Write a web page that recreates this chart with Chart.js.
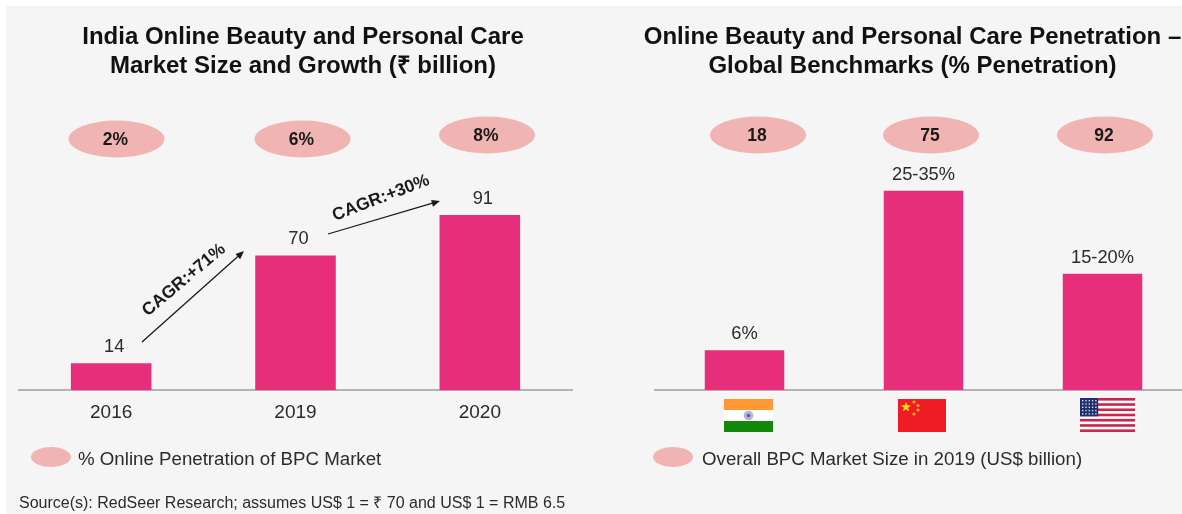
<!DOCTYPE html>
<html>
<head>
<meta charset="utf-8">
<script src="https://cdn.jsdelivr.net/npm/chart.js@4"></script>
<style>
    html, body { margin: 0; padding: 0; background: #ffffff; overflow: hidden; }
    #panel { position: absolute; left: 6px; top: 6px; width: 1176px; height: 508px; background: #f5f5f5; }
    canvas { position: absolute; top: 0; }
    #marketChart { left: 0; }
    #benchmarkChart { left: 620px; }
</style>
</head>
<body>
<div id="panel"></div>
<canvas id="marketChart" width="606" height="514"></canvas>
<canvas id="benchmarkChart" width="585" height="514"></canvas>
<script>
const marketYears = ['2016', '2019', '2020'];
const marketSize = [14, 70, 91];
const marketLabels = ['14', '70', '91'];
const onlinePenetration = ['2%', '6%', '8%'];

const countries = ['India', 'China', 'USA'];
const benchmarkPenetration = [6, 30, 17.5];
const benchmarkLabels = ['6%', '25-35%', '15-20%'];
const bpcMarketSize = ['18', '75', '92'];

const FONT = '"Liberation Sans", Arial, sans-serif';
const BAR_COLOR = '#e62e7a';
const BUBBLE_COLOR = '#f0b5b3';
const TEXT_COLOR = '#2b2b2b';

function ellipse(ctx, cx, cy, w, h) {
    ctx.fillStyle = BUBBLE_COLOR;
    ctx.beginPath();
    ctx.ellipse(cx, cy, w / 2, h / 2, 0, 0, Math.PI * 2);
    ctx.fill();
}

function text(ctx, str, x, y, font, color, align) {
    ctx.font = font;
    ctx.fillStyle = color;
    ctx.textAlign = align || 'center';
    ctx.textBaseline = 'middle';
    ctx.fillText(str, x, y);
}

function arrow(ctx, x1, y1, x2, y2) {
    const a = Math.atan2(y2 - y1, x2 - x1);
    ctx.strokeStyle = '#1a1a1a';
    ctx.fillStyle = '#1a1a1a';
    ctx.lineWidth = 1.3;
    ctx.beginPath();
    ctx.moveTo(x1, y1);
    ctx.lineTo(x2 - 6 * Math.cos(a), y2 - 6 * Math.sin(a));
    ctx.stroke();
    ctx.beginPath();
    ctx.moveTo(x2, y2);
    ctx.lineTo(x2 - 9 * Math.cos(a - 0.4), y2 - 9 * Math.sin(a - 0.4));
    ctx.lineTo(x2 - 9 * Math.cos(a + 0.4), y2 - 9 * Math.sin(a + 0.4));
    ctx.closePath();
    ctx.fill();
}

function rotatedText(ctx, str, x, y, deg) {
    ctx.save();
    ctx.translate(x, y);
    ctx.rotate(deg * Math.PI / 180);
    text(ctx, str, 0, 0, 'bold 17.5px ' + FONT, '#1a1a1a');
    ctx.restore();
}

function drawIndia(ctx, x, y, w, h) {
    ctx.fillStyle = '#ff9933';
    ctx.fillRect(x, y, w, h / 3);
    ctx.fillStyle = '#ffffff';
    ctx.fillRect(x, y + h / 3, w, h / 3);
    ctx.fillStyle = '#138808';
    ctx.fillRect(x, y + h * 2 / 3, w, h / 3);
    ctx.fillStyle = '#b4b4dc';
    ctx.beginPath();
    ctx.arc(x + w / 2, y + h / 2, 4.8, 0, Math.PI * 2);
    ctx.fill();
    ctx.fillStyle = '#5a5aa6';
    ctx.beginPath();
    ctx.arc(x + w / 2, y + h / 2, 1.8, 0, Math.PI * 2);
    ctx.fill();
}

function drawChina(ctx, x, y, w, h) {
    ctx.fillStyle = '#ee1c25';
    ctx.fillRect(x, y, w, h);
    ctx.fillStyle = '#ffdd00';
    ctx.beginPath();
    for (let i = 0; i < 10; i++) {
        const r = i % 2 ? 2.2 : 5.2;
        const a = -Math.PI / 2 + i * Math.PI / 5;
        ctx.lineTo(x + 8 + r * Math.cos(a), y + 8 + r * Math.sin(a));
    }
    ctx.closePath();
    ctx.fill();
    ctx.fillStyle = '#f6a81c';
    [[16, 3], [20, 6.5], [20, 11], [16, 15]].forEach(function(s) {
        ctx.beginPath();
        ctx.arc(x + s[0], y + s[1], 1.6, 0, Math.PI * 2);
        ctx.fill();
    });
}

function drawUsa(ctx, x, y, w, h) {
    const stripe = h / 13;
    ctx.fillStyle = '#ffffff';
    ctx.fillRect(x, y, w, h);
    ctx.fillStyle = '#c8264a';
    for (let i = 0; i < 13; i += 2) {
        ctx.fillRect(x, y + i * stripe, w, stripe);
    }
    ctx.fillStyle = '#1f2f6e';
    ctx.fillRect(x, y, w * 0.33, stripe * 7);
    ctx.fillStyle = '#d8dcf0';
    for (let r = 0; r < 5; r++) {
        for (let c = 0; c < 5; c++) {
            ctx.fillRect(x + 2 + c * 3.3, y + 2 + r * 3.3, 1.4, 1.4);
        }
    }
}

// titles, bubbles, bar labels and notes; xy below are in page pixels
function overlayPlugin(cfg) {
    return {
        id: 'overlay',
        afterDatasetsDraw: function(chart) {
            const ctx = chart.ctx;
            const bars = chart.getDatasetMeta(0).data;
            ctx.save();
            ctx.translate(-cfg.left, 0);
            cfg.title.forEach(function(line, i) {
                text(ctx, line, cfg.titleX, 37 + i * 29, 'bold 24px ' + FONT, '#111111');
            });
            cfg.bubbles.forEach(function(b, i) {
                ellipse(ctx, b[0], b[1], 96, 37);
                text(ctx, cfg.bubbleText[i], b[0] - 1, b[1] + 1, 'bold 17.5px ' + FONT, '#1a1a1a');
            });
            bars.forEach(function(bar, i) {
                text(ctx, cfg.barText[i], bar.x + cfg.left + cfg.labelShift, bar.y - 16, '18.3px ' + FONT, TEXT_COLOR);
            });
            ellipse(ctx, cfg.legend[0], 457, 40, 20);
            text(ctx, cfg.legendText, cfg.legend[1], 460, '18.7px ' + FONT, TEXT_COLOR, 'left');
            if (cfg.extra) {
                cfg.extra(ctx);
            }
            ctx.restore();
        }
    };
}

function makeChart(id, labels, values, cfg) {
    return new Chart(document.getElementById(id), {
        type: 'bar',
        data: {
            labels: labels,
            datasets: [{
                data: values,
                backgroundColor: BAR_COLOR,
                barPercentage: cfg.barPercentage,
                categoryPercentage: 1
            }]
        },
        options: {
            responsive: false,
            animation: false,
            layout: { padding: cfg.padding },
            plugins: {
                legend: { display: false },
                tooltip: { enabled: false }
            },
            scales: {
                x: {
                    grid: { display: false, drawTicks: false },
                    border: { color: '#b3b3b3', width: 2 },
                    ticks: {
                        display: cfg.showTicks,
                        color: TEXT_COLOR,
                        padding: 11,
                        font: { family: FONT, size: 19 }
                    }
                },
                y: { display: false, min: 0, max: cfg.max }
            }
        },
        plugins: [overlayPlugin(cfg)]
    });
}

makeChart('marketChart', marketYears, marketSize, {
    left: 0,
    title: ['India Online Beauty and Personal Care', 'Market Size and Growth (₹ billion)'],
    titleX: 303,
    padding: { top: 79, left: 19, right: 34, bottom: 79 },
    barPercentage: 0.437,
    showTicks: true,
    max: 161.6,
    bubbles: [[116.5, 139], [302.5, 139], [487, 135]],
    bubbleText: onlinePenetration,
    barText: marketLabels,
    labelShift: 3,
    legend: [51, 78],
    legendText: '% Online Penetration of BPC Market',
    extra: function(ctx) {
        arrow(ctx, 142, 342, 244, 251);
        rotatedText(ctx, 'CAGR:+71%', 184, 280, -40);
        arrow(ctx, 328, 234, 440, 201);
        rotatedText(ctx, 'CAGR:+30%', 381, 198, -21);
        text(ctx, 'Source(s): RedSeer Research; assumes US$ 1 = ₹ 70 and US$ 1 = RMB 6.5', 19, 504, '16px ' + FONT, TEXT_COLOR, 'left');
    }
});

makeChart('benchmarkChart', countries, benchmarkPenetration, {
    left: 620,
    title: ['Online Beauty and Personal Care Penetration –', 'Global Benchmarks (% Penetration)'],
    titleX: 912.5,
    padding: { top: 79, left: 35, right: 13, bottom: 124 },
    barPercentage: 0.444,
    showTicks: false,
    max: 46.8,
    bubbles: [[758, 135], [931, 135], [1105, 135]],
    bubbleText: bpcMarketSize,
    barText: benchmarkLabels,
    labelShift: 0,
    legend: [673, 702],
    legendText: 'Overall BPC Market Size in 2019 (US$ billion)',
    extra: function(ctx) {
        drawIndia(ctx, 724, 399, 49, 33);
        drawChina(ctx, 898, 399, 48, 33);
        drawUsa(ctx, 1080, 398, 55, 34);
    }
});
</script>
</body>
</html>
